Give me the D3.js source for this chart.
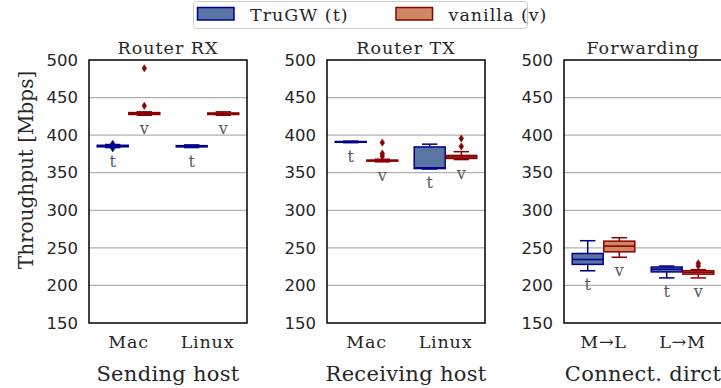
<!DOCTYPE html>
<html>
<head>
<meta charset="utf-8">
<script src="https://cdn.jsdelivr.net/npm/d3@7"></script>
<style>
  html, body { margin: 0; padding: 0; background: #fff; }
  svg { display: block; }
</style>
</head>
<body>
<svg id="chart" width="721" height="388"></svg>
<script>
// ---------- data ----------
const panelTitles = ["Router RX", "Router TX", "Forwarding"];
const xTitles = ["Sending host", "Receiving host", "Connect. dirct"];
const categories = [["Mac", "Linux"], ["Mac", "Linux"], ["M→L", "L→M"]];
const seriesNames = ["TruGW (t)", "vanilla (v)"];
const seriesShort = ["t", "v"];
const yTicks = [150, 200, 250, 300, 350, 400, 450, 500];
// box stats per panel, per category: [lowWhisker, q1, median, q3, highWhisker]
const trugwStats = [
  [[383.5, 384.5, 385.5, 386.5, 387.5], [383.5, 384.5, 385, 386, 387]],
  [[390, 390.5, 391, 391.5, 392], [355, 355.5, 356.5, 384.3, 388]],
  [[219.5, 228, 234.5, 242.5, 259.5], [210, 218, 221.5, 224.5, 225.8]]
];
const vanillaStats = [
  [[426.5, 427.5, 428.5, 430, 431], [426.5, 427.5, 428.5, 429.5, 431]],
  [[364.5, 365.5, 366, 366.8, 368], [367.5, 369, 371, 373, 378]],
  [[237.5, 244.7, 252.3, 258.9, 263.5], [210, 215, 217.5, 219.5, 221]]
];
// outliers per panel, per category
const trugwOutliers = [[[388.5, 382.5], []], [[], []], [[], []]];
const vanillaOutliers = [[[439, 489], []], [[372, 375.5, 390], [385, 395.5]], [[], [226, 229.5]]];

// ---------- style ----------
const fills = ["#5975a4", "#cc8963"];
const edges = ["#00008b", "#8b0000"];
const textColor = "#262626";
const serif = "'DejaVu Serif', 'Liberation Serif', serif";
const sans = "'DejaVu Sans', sans-serif";

const svg = d3.select("#chart");
const panelLeft = [89, 327, 564];
const panelW = 158;
const plotTop = 60, plotBottom = 323;

const y = d3.scaleLinear().domain([150, 500]).range([plotBottom, plotTop]);
const diamond = "M0,-3.6L2.3,0L0,3.6L-2.3,0Z";

const statsBySeries = [trugwStats, vanillaStats];
const outBySeries = [trugwOutliers, vanillaOutliers];

panelTitles.forEach((title, p) => {
  const x0 = panelLeft[p];
  const g = svg.append("g");
  const x = d3.scaleBand().domain(categories[p]).range([x0, x0 + panelW]);
  const bw = x.bandwidth();
  const xh = d3.scaleBand().domain(seriesShort).range([0.1 * bw, 0.9 * bw]);
  const boxW = xh.bandwidth() * 0.98;
  const capW = boxW / 2;

  // grid
  g.append("g").selectAll("line")
    .data(yTicks.filter(t => t > 150 && t < 500))
    .join("line")
    .attr("x1", x0).attr("x2", x0 + panelW)
    .attr("y1", d => y(d)).attr("y2", d => y(d))
    .attr("stroke", "#b0b0b0").attr("stroke-width", 1.3);

  // y axis
  const ax = g.append("g").attr("transform", `translate(${x0},0)`)
    .call(d3.axisLeft(y).tickValues(yTicks).tickSize(0).tickPadding(11));
  ax.select(".domain").remove();
  ax.selectAll("text").attr("font-family", sans).attr("font-size", 16.5).attr("fill", textColor);

  // boxes
  seriesShort.forEach((s, si) => {
    categories[p].forEach((cat, ci) => {
      const st = statsBySeries[si][p][ci];
      const cx = x(cat) + xh(s) + xh.bandwidth() / 2;
      const col = edges[si];
      const bg = g.append("g");
      bg.append("line").attr("x1", cx).attr("x2", cx).attr("y1", y(st[0])).attr("y2", y(st[1]))
        .attr("stroke", col).attr("stroke-width", 1.5);
      bg.append("line").attr("x1", cx).attr("x2", cx).attr("y1", y(st[3])).attr("y2", y(st[4]))
        .attr("stroke", col).attr("stroke-width", 1.5);
      [st[0], st[4]].forEach(v => {
        bg.append("line").attr("x1", cx - capW / 2).attr("x2", cx + capW / 2)
          .attr("y1", y(v)).attr("y2", y(v)).attr("stroke", col).attr("stroke-width", 1.5);
      });
      bg.append("rect").attr("x", cx - boxW / 2).attr("width", boxW)
        .attr("y", y(st[3])).attr("height", Math.max(0.1, y(st[1]) - y(st[3])))
        .attr("fill", fills[si]).attr("stroke", col).attr("stroke-width", 1.5);
      bg.append("line").attr("x1", cx - boxW / 2).attr("x2", cx + boxW / 2)
        .attr("y1", y(st[2])).attr("y2", y(st[2])).attr("stroke", col).attr("stroke-width", 1.6);
      bg.selectAll("path.out").data(outBySeries[si][p][ci]).join("path")
        .attr("class", "out").attr("d", diamond)
        .attr("transform", d => `translate(${cx},${y(d)})`)
        .attr("fill", col).attr("stroke", col).attr("stroke-width", 0.6);
      const low = Math.min(st[0], ...outBySeries[si][p][ci]);
      bg.append("text").attr("x", cx).attr("y", y(low) + 19)
        .attr("text-anchor", "middle").attr("font-family", serif).attr("font-size", 16)
        .attr("fill", "#595959").text(s);
    });
  });

  // frame
  g.append("rect").attr("x", x0).attr("y", plotTop).attr("width", panelW).attr("height", plotBottom - plotTop)
    .attr("fill", "none").attr("stroke", "#000").attr("stroke-width", 1.5);

  // title
  g.append("text").attr("x", x0 + panelW / 2).attr("y", 54).attr("text-anchor", "middle")
    .attr("font-family", serif).attr("font-size", 17.5).attr("letter-spacing", 1)
    .attr("fill", textColor).text(title);

  // category labels
  g.append("g").selectAll("text").data(categories[p]).join("text")
    .attr("x", d => x(d) + bw / 2).attr("y", 348).attr("text-anchor", "middle")
    .attr("font-family", serif).attr("font-size", 17.5).attr("letter-spacing", 0.8)
    .attr("fill", textColor).text(d => d);

  // x title
  g.append("text").attr("x", x0 + panelW / 2).attr("y", 381).attr("text-anchor", "middle")
    .attr("font-family", serif).attr("font-size", 21).attr("letter-spacing", 0.3)
    .attr("fill", textColor).text(xTitles[p]);
});

// y label
svg.append("text").attr("transform", "translate(33,170) rotate(-90)")
  .attr("text-anchor", "middle").attr("font-family", serif).attr("font-size", 20)
  .attr("fill", textColor).text("Throughput [Mbps]");

// legend
const lg = svg.append("g");
lg.append("rect").attr("x", 193.5).attr("y", 1.5).attr("width", 334).attr("height", 27)
  .attr("rx", 3).attr("fill", "#fff").attr("stroke", "#cccccc").attr("stroke-width", 1);
const legX = [197, 395.5];
seriesNames.forEach((name, i) => {
  lg.append("rect").attr("x", legX[i] + 0.5).attr("y", 7.5).attr("width", 36.5).attr("height", 12.5)
    .attr("fill", fills[i]).attr("stroke", edges[i]).attr("stroke-width", 1.5);
  lg.append("text").attr("x", legX[i] + 53).attr("y", 21)
    .attr("font-family", serif).attr("font-size", 17.5).attr("letter-spacing", 1)
    .attr("fill", textColor).text(name);
});
</script>
</body>
</html>
